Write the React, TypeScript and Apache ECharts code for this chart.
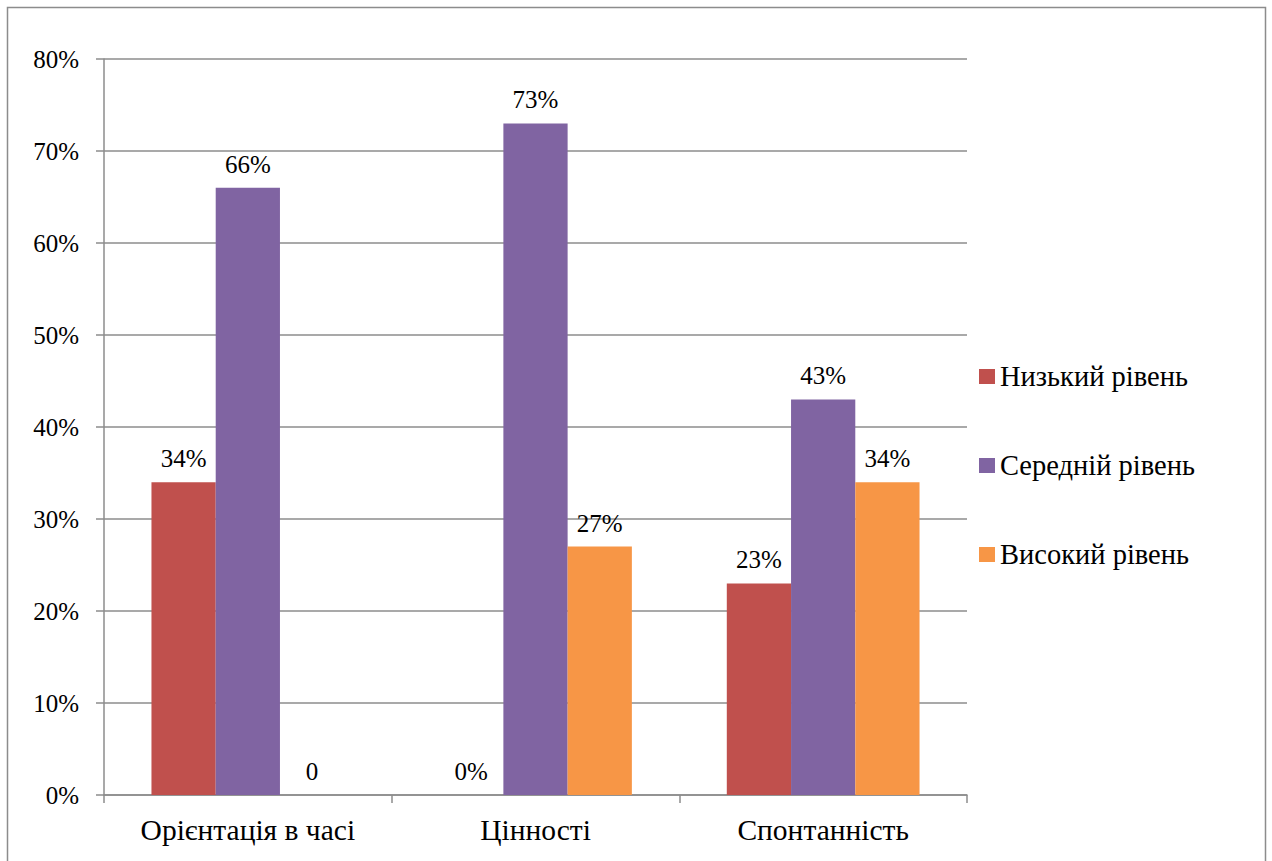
import React, { useEffect, useRef } from "react";
import * as echarts from "echarts";

const categories = ["Орієнтація в часі", "Цінності", "Спонтанність"];
const seriesNames = ["Низький рівень", "Середній рівень", "Високий рівень"];
const lowValues = [34, 0, 23];
const midValues = [66, 73, 43];
const highValues = [0, 27, 34];
const lowLabels = ["34%", "0%", "23%"];
const midLabels = ["66%", "73%", "43%"];
const highLabels = ["0", "27%", "34%"];
const colors = ["#C0504D", "#8064A2", "#F79646"];

const FONT = "Liberation Serif";

export default function App() {
  const ref = useRef<HTMLDivElement>(null);
  useEffect(() => {
    if (!ref.current) return;
    const chart = echarts.init(ref.current, null, { renderer: "svg" });
    const values = [lowValues, midValues, highValues];
    const labels = [lowLabels, midLabels, highLabels];
    chart.setOption({
      animation: false,
      backgroundColor: "#ffffff",
      textStyle: { fontFamily: FONT },
      graphic: [
        {
          type: "rect",
          shape: { x: 7.5, y: 7.5, width: 1258, height: 900 },
          style: { fill: "none", stroke: "#8c8c8c", lineWidth: 1.5 },
          silent: true,
        },
      ],
      grid: { left: 104, right: 305, top: 59, bottom: 66, containLabel: false },
      legend: {
        orient: "vertical",
        left: 974,
        top: 357,
        itemWidth: 16,
        itemHeight: 15,
        itemGap: 60,
        icon: "rect",
        textStyle: { fontFamily: FONT, fontSize: 28.5, color: "#000" },
        data: seriesNames,
      },
      xAxis: {
        type: "category",
        data: categories,
        axisLine: { lineStyle: { color: "#8c8c8c", width: 1.5 } },
        axisTick: { show: true, length: 8, alignWithLabel: false, lineStyle: { color: "#8c8c8c", width: 1.5 } },
        axisLabel: { fontFamily: FONT, fontSize: 29.5, color: "#000", margin: 20 },
      },
      yAxis: {
        type: "value",
        min: 0,
        max: 80,
        interval: 10,
        axisLine: { show: true, lineStyle: { color: "#8c8c8c", width: 1.5 } },
        axisTick: { show: true, length: 8, lineStyle: { color: "#8c8c8c", width: 1.5 } },
        splitLine: { lineStyle: { color: "#8c8c8c", width: 1.5 } },
        axisLabel: { fontFamily: FONT, fontSize: 25, color: "#000", margin: 25, formatter: "{value}%" },
      },
      series: seriesNames.map((name, si) => ({
        name,
        type: "bar",
        data: values[si],
        barGap: "0%",
        barCategoryGap: "33%",
        itemStyle: { color: colors[si] },
        label: {
          show: true,
          position: "top",
          distance: 11,
          fontFamily: FONT,
          fontSize: 25,
          color: "#000",
          formatter: (p: any) => labels[si][p.dataIndex],
        },
      })),
    });
    return () => chart.dispose();
  }, []);
  return (
    <div
      ref={ref}
      style={{ position: "absolute", left: 0, top: 0, width: 1272, height: 861 }}
    />
  );
}
